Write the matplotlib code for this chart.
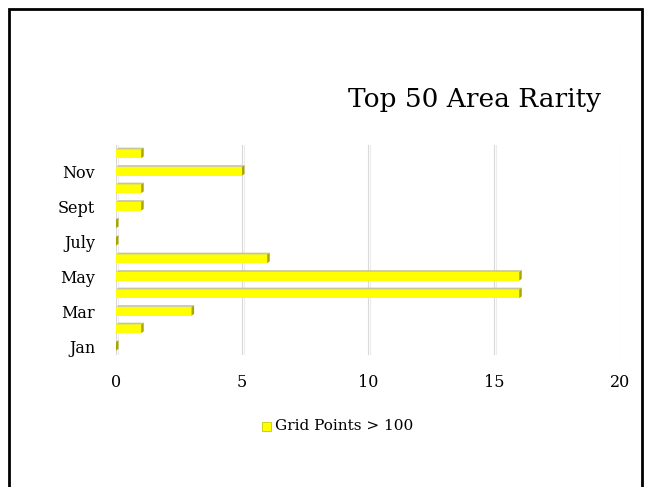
import matplotlib.pyplot as plt
import matplotlib.patches as mpatches
import numpy as np

# données
mois = ["Jan", "Feb", "Mar", "Apr", "May", "June", "July", "Aug",
        "Sept", "Oct", "Nov", "Dec"]
labels = ["Jan", "", "Mar", "", "May", "", "July", "", "Sept", "", "Nov", ""]
valeurs = [0, 1, 3, 16, 16, 6, 0, 0, 1, 1, 5, 1]
ticks_x = [0, 5, 10, 15, 20]

plt.rcParams['font.family'] = ['DejaVu Serif']

fig = plt.figure(figsize=(6.49, 4.87), dpi=100)

# cadre noir autour de la diapo
fig.patches.append(mpatches.Rectangle((9 / 649, -0.05), 633 / 649, 1.05 - 9 / 487,
                                      transform=fig.transFigure, fill=False,
                                      edgecolor='black', linewidth=2))

ax = fig.add_axes([0.1787, 0.271, 0.7766, 0.4312])
y = np.arange(len(mois))

# effet 3D : face avant jaune, dessus gris clair, bout olive
dx = 0.1
dy = 0.1
h = 0.5
ax.barh(y, valeurs, height=h, color='#ffff00', zorder=3)
for yi, v in zip(y, valeurs):
    haut = yi + h / 2
    bas = yi - h / 2
    ax.fill([0, v, v + dx, dx], [haut, haut, haut + dy, haut + dy],
            color='#c9c79a', linewidth=0, zorder=3)
    ax.fill([v, v + dx, v + dx, v], [bas, bas + dy, haut + dy, haut],
            color='#a8a500', linewidth=0, zorder=4)

for xv in ticks_x:
    ax.axvline(xv, color='#d9d9d9', linewidth=0.8, zorder=1)
    ax.axvline(xv + 0.08, color='#ececec', linewidth=0.8, zorder=1)

ax.set_xlim(0, 20)
ax.set_ylim(-0.5, 11.5)
ax.set_xticks(ticks_x)
ax.set_yticks(y)
ax.set_yticklabels(labels)
ax.tick_params(length=0, labelsize=11.5)
ax.tick_params(axis='x', pad=14)
ax.tick_params(axis='y', pad=15)
for s in ax.spines.values():
    s.set_visible(False)

fig.text(0.731, 0.795, "Top 50 Area Rarity", fontsize=19, ha='center', va='center')

# légende
fig.patches.append(mpatches.Rectangle((262 / 649, 1 - 431 / 487), 9 / 649, 9 / 487,
                                      transform=fig.transFigure,
                                      facecolor='#ffff00', edgecolor='#c8c800',
                                      linewidth=0.6))
fig.text(275 / 649, 1 - 426 / 487, "Grid Points > 100", fontsize=11, va='center')

fig.savefig("out.png", dpi=100)
